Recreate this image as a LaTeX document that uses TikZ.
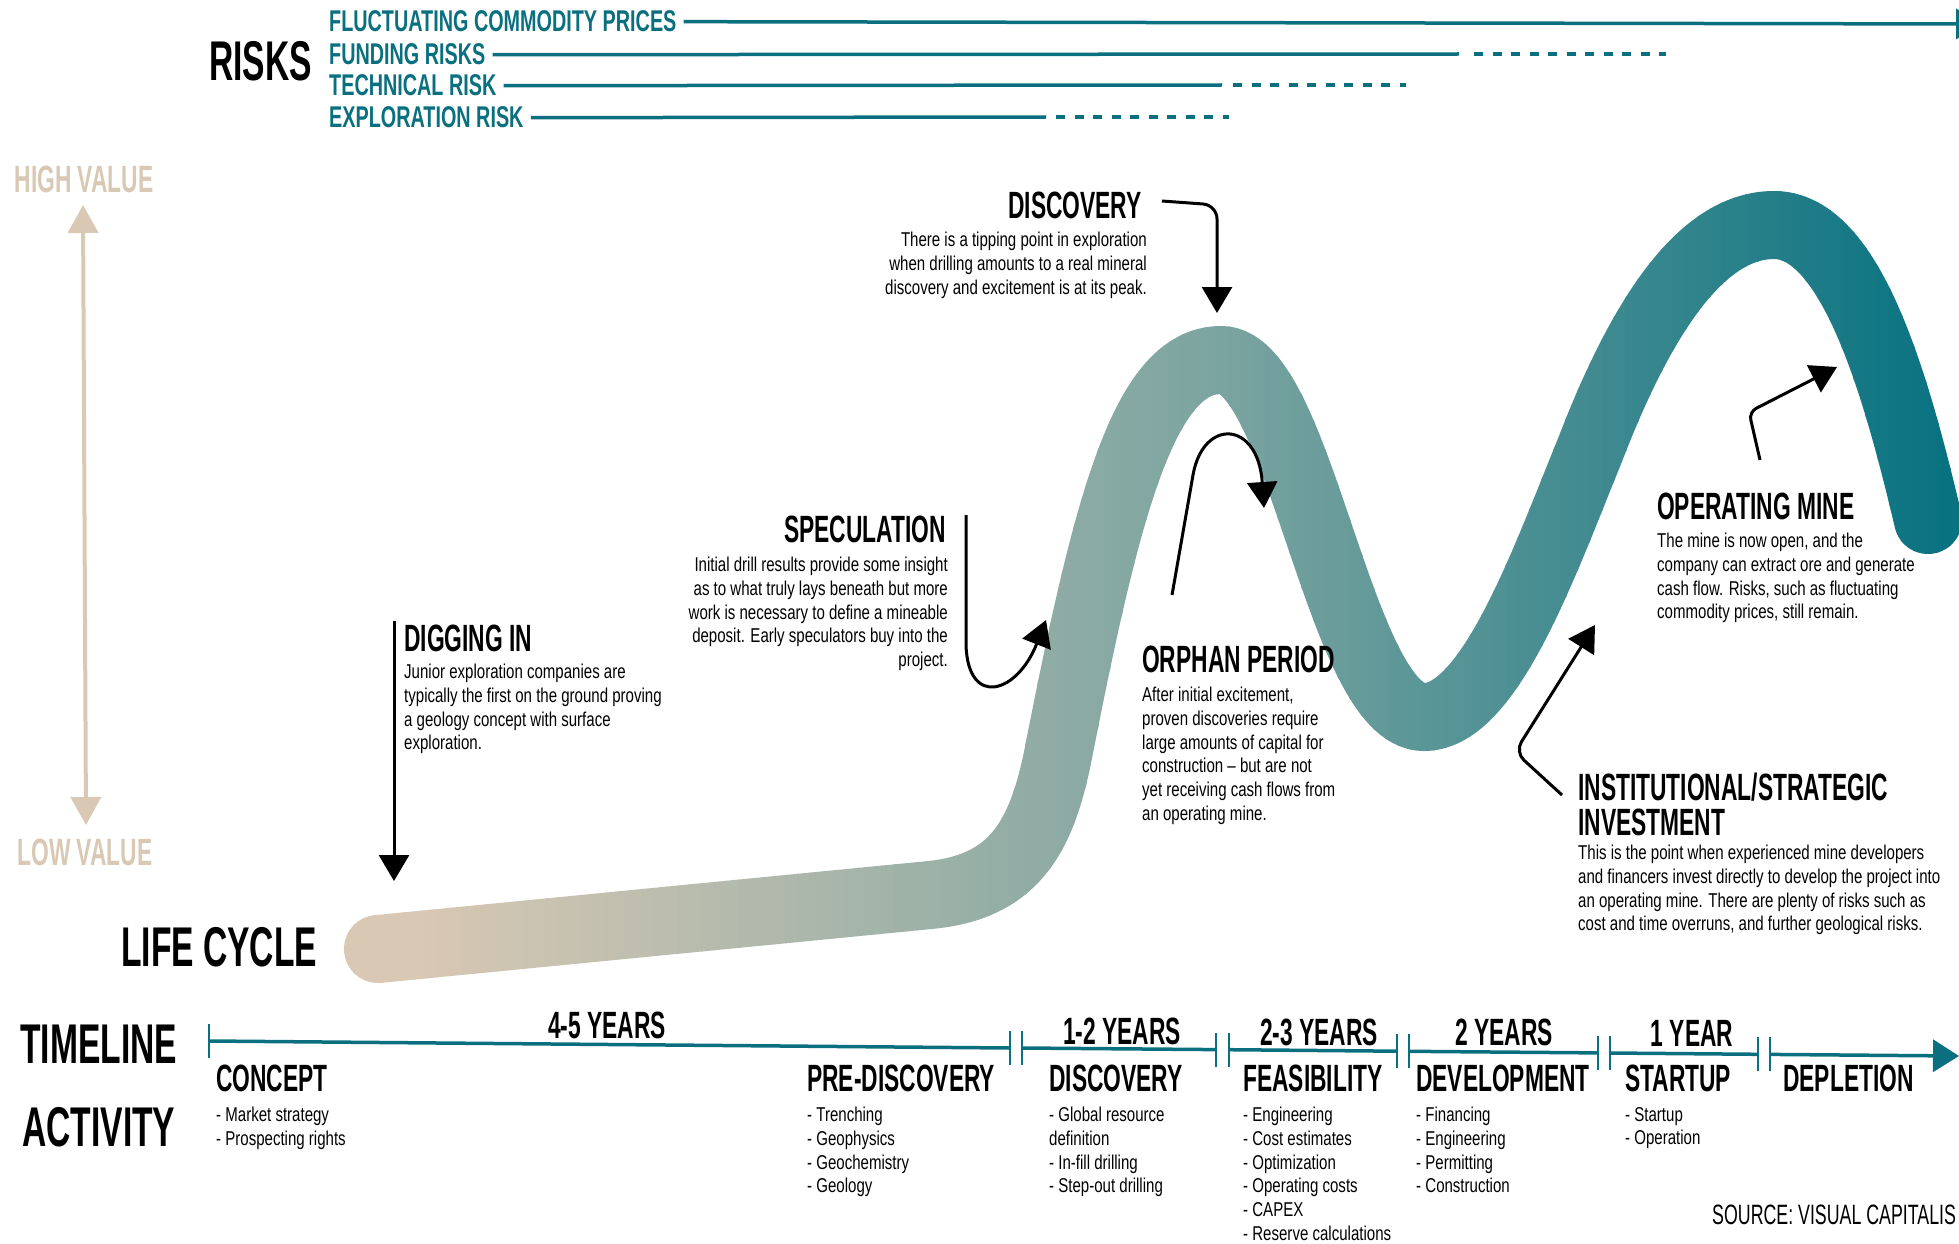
\documentclass[tikz,border=0pt]{standalone}
\usepackage{fontspec}
\setmainfont{Liberation Sans}
\newfontfamily\bodyf{Liberation Sans}[FakeStretch=0.752]
\newfontfamily\headf{Liberation Sans}[FakeStretch=0.6]
\newfontfamily\riskf{Liberation Sans}[FakeStretch=0.66]
\newfontfamily\srcf{Liberation Sans}[FakeStretch=0.635]
\usetikzlibrary{arrows.meta}
\definecolor{tealc}{HTML}{0A707F}
\definecolor{beigec}{HTML}{D8C8B4}
\definecolor{midc}{HTML}{7BA4A0}
\definecolor{ribend}{HTML}{087281}
\tikzset{
 head/.style={font=\headf\bfseries\fontsize{38}{40}\selectfont, inner sep=0pt},
 bighead/.style={font=\headf\bfseries\fontsize{56}{58}\selectfont, inner sep=0pt},
 body/.style={font=\bodyf\fontsize{20}{23.7}\selectfont, inner sep=0pt},
 risklbl/.style={font=\riskf\bfseries\fontsize{30}{32}\selectfont, text=tealc, inner sep=0pt},
 axislbl/.style={font=\headf\bfseries\fontsize{38}{40}\selectfont, text=beigec, inner sep=0pt},
 riskline/.style={tealc, line width=3.5pt},
 riskdash/.style={tealc, line width=3.5pt, dash pattern=on 9pt off 9.5pt},
 arr/.style={line width=3pt, -{Triangle[length=26pt,width=30pt]}},
 tlseg/.style={tealc, line width=3.5pt},
 tlmark/.style={tealc, line width=2.5pt},
 rib/.style={line width=68pt, line cap=round},
 ribbon path/.style={insert path={(378,949) -- (930,895)
   .. controls (1012,887) and (1040,840) .. (1057,760)
   .. controls (1106,510) and (1143,360) .. (1221,360)
   .. controls (1300,360) and (1340,717) .. (1424,717)
   .. controls (1490,717) and (1545,560) .. (1590,450)
   .. controls (1640,320) and (1700,225) .. (1774,225)
   .. controls (1850,225) and (1895,380) .. (1928,520)}},
}
\begin{document}
\begin{tikzpicture}[x=1pt,y=-1pt]
\useasboundingbox (0,0) rectangle (1959,1244);

% ---------- life cycle ribbon (gradient by vertical strips) ----------
\foreach \xs in {330,342,...,1974}{
  \pgfmathsetmacro\xcen{\xs+6}
  \ifdim\xcen pt<1221pt
    \pgfmathsetmacro\rp{max(0,min(100,(\xcen-420)/8.01))}
    \colorlet{rc}{midc!\rp!beigec}
  \else
    \pgfmathsetmacro\rp{max(0,min(100,(\xcen-1221)/7.29))}
    \colorlet{rc}{ribend!\rp!midc}
  \fi
  \begin{scope}
    \clip (\xs-0.6,0) rectangle (\xs+12.6,1244);
    \draw[rib, rc, ribbon path];
  \end{scope}
}

% ---------- risks ----------
\node[bighead, anchor=base west] (risks) at (209,81) {RISKS};
\node[risklbl, anchor=base west] (rA) at (329,32) {FLUCTUATING COMMODITY PRICES};
\node[risklbl, anchor=base west] (rB) at (329,65) {FUNDING RISKS};
\node[risklbl, anchor=base west] (rC) at (329,96) {TECHNICAL RISK};
\node[risklbl, anchor=base west] (rD) at (329,128) {EXPLORATION RISK};
\coordinate (rAend) at (1982,24);
\coordinate (rBmid) at (1459,54);  \coordinate (rBend) at (1666,54);
\coordinate (rCmid) at (1222,85);  \coordinate (rCend) at (1406,85);
\coordinate (rDmid) at (1046,117); \coordinate (rDend) at (1229,117);
\draw[riskline, -{Triangle[length=26pt,width=30pt]}] ([xshift=7pt]rA.east) -- (rAend);
\draw[riskline] ([xshift=7pt]rB.east) -- (rBmid);
\draw[riskdash] ([xshift=15pt]rBmid) -- (rBend);
\draw[riskline] ([xshift=7pt]rC.east) -- (rCmid);
\draw[riskdash] ([xshift=11pt]rCmid) -- (rCend);
\draw[riskline] ([xshift=7pt]rD.east) -- (rDmid);
\draw[riskdash] ([xshift=10pt]rDmid) -- (rDend);

% ---------- value axis ----------
\node[axislbl, anchor=base] (hv) at (84,192) {HIGH VALUE};
\node[axislbl, anchor=base] (lv) at (85,865) {LOW VALUE};
\coordinate (axTop) at (83,205);
\coordinate (axBot) at (86,825);
\draw[beigec, line width=4pt, {Triangle[length=28pt,width=30pt]}-{Triangle[length=28pt,width=30pt]}] (axTop) -- (axBot);

% ---------- annotations ----------
\node[head, anchor=base west] (digH) at (404,651) {DIGGING IN};
\node[body, anchor=north west, align=left] (digB) at (404,664)
 {Junior exploration companies are\\typically the first on the ground proving\\a geology concept with surface\\exploration.};
\coordinate (digA) at (394,621); \coordinate (digT) at (394,881);
\draw[arr] (digA) -- (digT);

\node[head, anchor=base east] (specH) at (946,542) {SPECULATION};
\node[body, anchor=north east, align=right] (specB) at (948,557)
 {Initial drill results provide some insight\\as to what truly lays beneath but more\\work is necessary to define a mineable\\deposit. Early speculators buy into the\\project.};
\coordinate (specA) at (966,515); \coordinate (specT) at (1046,620);
\draw[arr] (specA) -- (966,645) .. controls (968,708) and (1017,694) .. (specT);

\node[head, anchor=base east] (discH) at (1142,218) {DISCOVERY};
\node[body, anchor=north east, align=right] (discB) at (1147,232)
 {There is a tipping point in exploration\\when drilling amounts to a real mineral\\discovery and excitement is at its peak.};
\coordinate (discA) at (1162,201); \coordinate (discT) at (1217,313);
\draw[arr, rounded corners=14pt] (discA) -- (1217,205) -- (discT);

\node[head, anchor=base west] (orphH) at (1142,672) {ORPHAN PERIOD};
\node[body, anchor=north west, align=left] (orphB) at (1142,687)
 {After initial excitement,\\proven discoveries require\\large amounts of capital for\\construction – but are not\\yet receiving cash flows from\\an operating mine.};
\coordinate (orphA) at (1172,595); \coordinate (orphT) at (1264,508);
\draw[arr] (orphA) -- (1193,475) .. controls (1203,418) and (1258,420) .. (orphT);

\node[head, anchor=base west] (instH) at (1578,800) {INSTITUTIONAL/STRATEGIC};
\node[head, anchor=base west] (instH2) at (1578,835) {INVESTMENT};
\node[body, anchor=north west, align=left] (instB) at (1578,845)
 {This is the point when experienced mine developers\\and financers invest directly to develop the project into\\an operating mine. There are plenty of risks such as\\cost and time overruns, and further geological risks.};
\coordinate (instA) at (1562,795); \coordinate (instT) at (1595,625);
\draw[arr, rounded corners=12pt] (instA) -- (1515,752) -- (instT);

\node[head, anchor=base west] (opH) at (1657,519) {OPERATING MINE};
\node[body, anchor=north west, align=left] (opB) at (1657,533)
 {The mine is now open, and the\\company can extract ore and generate\\cash flow. Risks, such as fluctuating\\commodity prices, still remain.};
\coordinate (opA) at (1760,460); \coordinate (opT) at (1837,367);
\draw[arr, rounded corners=8pt] (opA) -- (1749,412) -- (opT);

\node[bighead, anchor=base west] (life) at (121,966) {LIFE CYCLE};

% ---------- timeline ----------
\node[bighead, anchor=base west] (tlab) at (20,1063) {TIMELINE};
\node[bighead, anchor=base west] (alab) at (22,1146) {ACTIVITY};

\coordinate (t0) at (209,1041);
\coordinate (t1a) at (1010,1048);  \coordinate (t1b) at (1022,1048);
\coordinate (t2a) at (1216,1049.6);\coordinate (t2b) at (1229,1049.7);
\coordinate (t3a) at (1397,1051.2);\coordinate (t3b) at (1409,1051.3);
\coordinate (t4a) at (1598,1052.9);\coordinate (t4b) at (1610,1053);
\coordinate (t5a) at (1758,1054.3);\coordinate (t5b) at (1770,1054.4);
\coordinate (tEnd) at (1959,1056);
\draw[tlseg] (t0) -- (t1a);
\draw[tlseg] (t1b) -- (t2a);
\draw[tlseg] (t2b) -- (t3a);
\draw[tlseg] (t3b) -- (t4a);
\draw[tlseg] (t4b) -- (t5a);
\draw[tlseg, -{Triangle[length=26pt,width=32pt]}] (t5b) -- (tEnd);
\foreach \c in {t0,t1a,t1b,t2a,t2b,t3a,t3b,t4a,t4b,t5a,t5b}{
  \draw[tlmark] ([yshift=-17pt]\c) -- ([yshift=17pt]\c);
}

\node[head, anchor=base] (d1) at (607,1038) {4-5 YEARS};
\node[head, anchor=base] (d2) at (1122,1044) {1-2 YEARS};
\node[head, anchor=base] (d3) at (1319,1045) {2-3 YEARS};
\node[head, anchor=base] (d4) at (1504,1045) {2 YEARS};
\node[head, anchor=base] (d5) at (1692,1046) {1 YEAR};

\node[head, anchor=base west] (p1) at (216,1091) {CONCEPT};
\node[head, anchor=base west] (p2) at (807,1091) {PRE-DISCOVERY};
\node[head, anchor=base west] (p3) at (1049,1091) {DISCOVERY};
\node[head, anchor=base west] (p4) at (1243,1091) {FEASIBILITY};
\node[head, anchor=base west] (p5) at (1416,1091) {DEVELOPMENT};
\node[head, anchor=base west] (p6) at (1625,1091) {STARTUP};
\node[head, anchor=base west] (p7) at (1783,1091) {DEPLETION};

\node[body, anchor=north west, align=left] (a1) at (216,1107)
 {- Market strategy\\- Prospecting rights};
\node[body, anchor=north west, align=left] (a2) at (807,1107)
 {- Trenching\\- Geophysics\\- Geochemistry\\- Geology};
\node[body, anchor=north west, align=left] (a3) at (1049,1107)
 {- Global resource\\definition\\- In-fill drilling\\- Step-out drilling};
\node[body, anchor=north west, align=left] (a4) at (1243,1107)
 {- Engineering\\- Cost estimates\\- Optimization\\- Operating costs\\- CAPEX\\- Reserve calculations};
\node[body, anchor=north west, align=left] (a5) at (1416,1107)
 {- Financing\\- Engineering\\- Permitting\\- Construction};
\node[body, anchor=north west, align=left] (a6) at (1625,1107)
 {- Startup\\- Operation};

\node[font=\srcf\fontsize{28}{30}\selectfont, anchor=base west, inner sep=0pt] (src) at (1712,1224) {SOURCE: VISUAL CAPITALIS};
\end{tikzpicture}
\end{document}
